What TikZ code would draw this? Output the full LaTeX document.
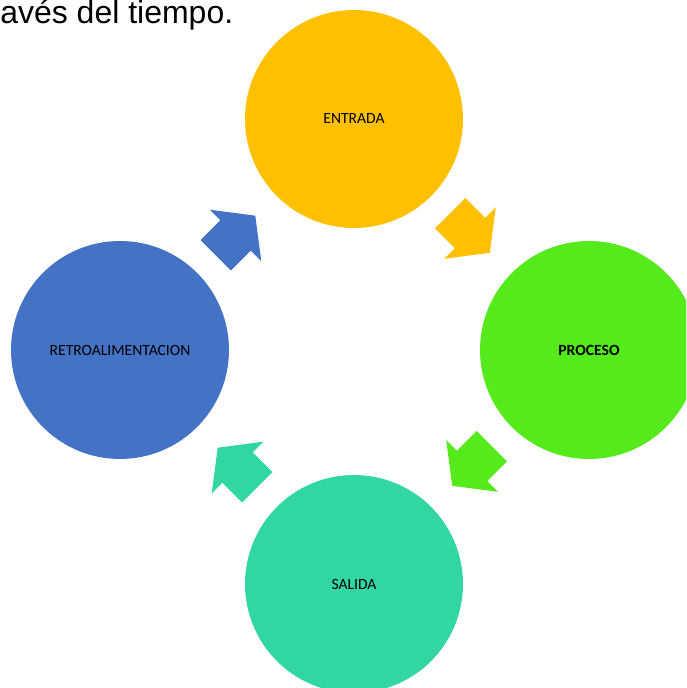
\documentclass[tikz,border=0pt]{standalone}
\usepackage{fontspec}
\setmainfont{Carlito}
\newfontfamily\headfont{Liberation Sans}
\definecolor{entradacol}{HTML}{FFC000}
\definecolor{procesocol}{HTML}{55EA1C}
\definecolor{salidacol}{HTML}{31D6A4}
\definecolor{retrocol}{HTML}{4472C4}
\def\circrad{81.75pt}
% block arrow pointing along +x, centred where the head starts
\def\cyclearrow{(-28,-21.5) -- (0,-21.5) -- (0,-36.5) -- (28,0) -- (0,36.5) -- (0,21.5) -- (-28,21.5) -- cycle}

\begin{document}
\begin{tikzpicture}[x=0.75pt,y=0.75pt]
    \tikzstyle{stage}=[circle,minimum size=2*\circrad,inner sep=0pt,font=\fontsize{11.7}{13}\selectfont]
    \tikzstyle{cycle arrow}=[draw=none]

    \useasboundingbox (0,0) rectangle (686,688);
    \clip (0,0) rectangle (686,688);

    % Draw the text line above the diagram
    \node[anchor=base west,inner sep=0pt,font=\headfont\fontsize{24}{28}\selectfont] (head) at (0,664) {avés del tiempo.};

    % Draw the four stages
    \node[stage,fill=entradacol] (E) at (354,569) {ENTRADA};
    \node[stage,fill=procesocol,font=\fontsize{11.7}{13}\selectfont\bfseries] (P) at (589,338) {PROCESO};
    \node[stage,fill=salidacol] (S) at (354,104) {SALIDA};
    \node[stage,fill=retrocol] (R) at (120,338) {RETROALIMENTACION};

    % Draw the arrows between the stages
    \coordinate (EP) at (470,455);
    \coordinate (PS) at (472,222);
    \coordinate (SR) at (237.5,220.5);
    \coordinate (RE) at (235.5,452.5);
    \fill[cycle arrow,entradacol,shift={(EP)},rotate=-45] \cyclearrow;
    \fill[cycle arrow,procesocol,shift={(PS)},rotate=-135] \cyclearrow;
    \fill[cycle arrow,salidacol,shift={(SR)},rotate=135] \cyclearrow;
    \fill[cycle arrow,retrocol,shift={(RE)},rotate=45] \cyclearrow;
\end{tikzpicture}
\end{document}
